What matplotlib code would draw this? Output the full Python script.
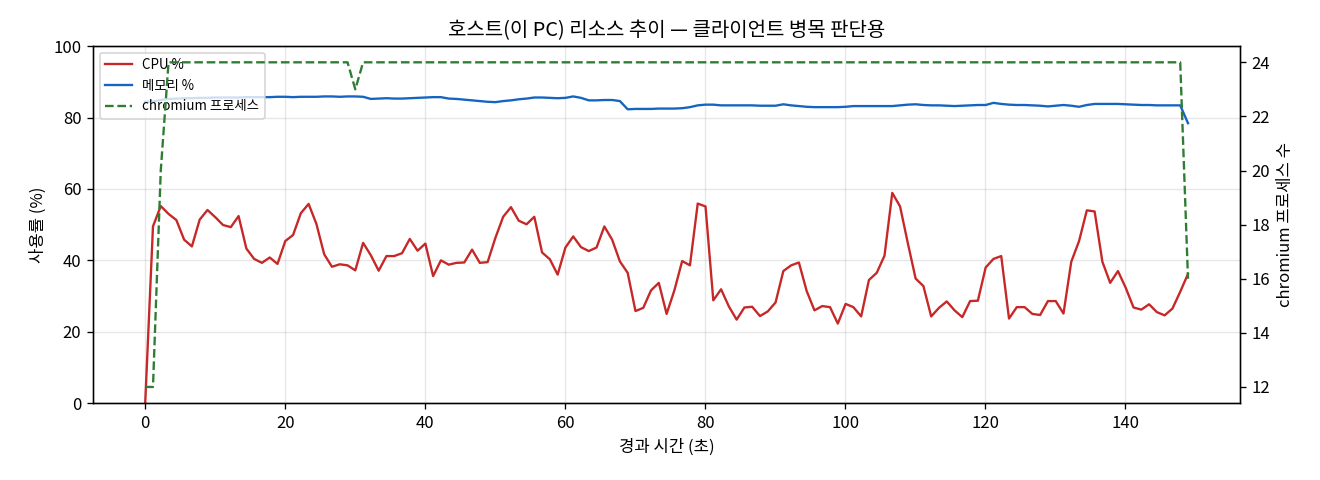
import numpy as np
import matplotlib
matplotlib.use("Agg")
import matplotlib.pyplot as plt

plt.rcParams['font.family'] = ['Noto Sans CJK KR', 'DejaVu Sans']
plt.rcParams['axes.unicode_minus'] = False

# 측정 기간 (초)
duration = 149

cpu = [0.0, 49.5, 55.2, 53.0, 51.3, 45.8, 43.9, 51.4, 54.1, 52.1,
       49.9, 49.3, 52.4, 43.3, 40.4, 39.3, 40.8, 39.0, 45.4, 47.1,
       53.2, 55.8, 50.2, 41.7, 38.2, 38.9, 38.6, 37.2, 44.9, 41.4,
       37.1, 41.2, 41.2, 42.0, 46.0, 42.7, 44.7, 35.6, 40.0, 38.8,
       39.3, 39.4, 43.0, 39.3, 39.5, 46.3, 52.2, 54.9, 51.1, 50.1,
       52.2, 42.2, 40.3, 36.0, 43.6, 46.7, 43.7, 42.6, 43.6, 49.5,
       45.8, 39.7, 36.5, 25.8, 26.7, 31.6, 33.7, 25.0, 31.6, 39.8,
       38.6, 55.9, 55.1, 28.8, 31.9, 27.1, 23.4, 26.8, 27.0, 24.4,
       25.7, 28.2, 37.0, 38.6, 39.4, 31.4, 26.0, 27.2, 26.9, 22.3,
       27.8, 26.9, 24.3, 34.5, 36.5, 41.3, 58.9, 55.1, 44.8, 34.9,
       32.8, 24.3, 26.7, 28.5, 26.0, 24.1, 28.6, 28.7, 38.0, 40.4,
       41.2, 23.7, 26.9, 26.9, 25.0, 24.7, 28.6, 28.6, 25.1, 39.6,
       45.4, 54.0, 53.7, 39.6, 33.7, 37.0, 32.3, 26.8, 26.2, 27.7,
       25.5, 24.6, 26.5, 31.2, 36.2]

mem = [84.4, 84.5, 84.9, 85.2, 85.3, 85.4, 85.4, 85.5, 85.5, 85.6,
       85.6, 85.6, 85.6, 85.7, 85.7, 85.7, 85.7, 85.8, 85.8, 85.7,
       85.8, 85.8, 85.8, 85.9, 85.9, 85.8, 85.9, 85.9, 85.8, 85.2,
       85.3, 85.4, 85.3, 85.3, 85.4, 85.5, 85.6, 85.7, 85.7, 85.3,
       85.2, 85.0, 84.8, 84.6, 84.4, 84.3, 84.6, 84.8, 85.1, 85.3,
       85.6, 85.6, 85.5, 85.4, 85.5, 85.9, 85.5, 84.8, 84.8, 84.9,
       84.9, 84.6, 82.3, 82.4, 82.4, 82.4, 82.5, 82.5, 82.5, 82.6,
       82.9, 83.4, 83.6, 83.6, 83.4, 83.4, 83.4, 83.4, 83.4, 83.3,
       83.3, 83.3, 83.7, 83.4, 83.2, 83.0, 82.9, 82.9, 82.9, 82.9,
       83.0, 83.2, 83.2, 83.2, 83.2, 83.2, 83.2, 83.4, 83.6, 83.7,
       83.5, 83.4, 83.4, 83.3, 83.2, 83.3, 83.4, 83.5, 83.5, 84.1,
       83.8, 83.6, 83.5, 83.5, 83.4, 83.3, 83.1, 83.3, 83.5, 83.3,
       83.0, 83.5, 83.8, 83.8, 83.8, 83.8, 83.7, 83.6, 83.5, 83.5,
       83.4, 83.4, 83.4, 83.4, 78.4]

procs = [12, 12, 20] + [24] * 24 + [23] + [24] * 106 + [16]

elapsed = np.linspace(0, duration, len(cpu))

fig = plt.figure(figsize=(11, 4), dpi=120)
ax = fig.add_axes([0.0705, 0.160, 0.869, 0.744])
ax2 = ax.twinx()

l1, = ax.plot(elapsed, cpu, color='#c62828', lw=1.4, label='CPU %')
l2, = ax.plot(elapsed, mem, color='#1565c0', lw=1.4, label='메모리 %')
l3, = ax2.plot(elapsed, procs, color='#2e7d32', lw=1.4, ls='--', label='chromium 프로세스')

ax.set_ylim(0, 100)
ax.grid(True, alpha=0.3)
ax.set_xlabel('경과 시간 (초)', fontsize=10)
ax.set_ylabel('사용률 (%)', fontsize=10)
ax2.set_ylabel('chromium 프로세스 수', fontsize=10)
ax.tick_params(labelsize=10)
ax2.tick_params(labelsize=10)
ax.set_title('호스트(이 PC) 리소스 추이 — 클라이언트 병목 판단용', fontsize=12)

ax.legend(handles=[l1, l2, l3], loc='upper left', fontsize=8)

fig.savefig('out.png', dpi=120)
